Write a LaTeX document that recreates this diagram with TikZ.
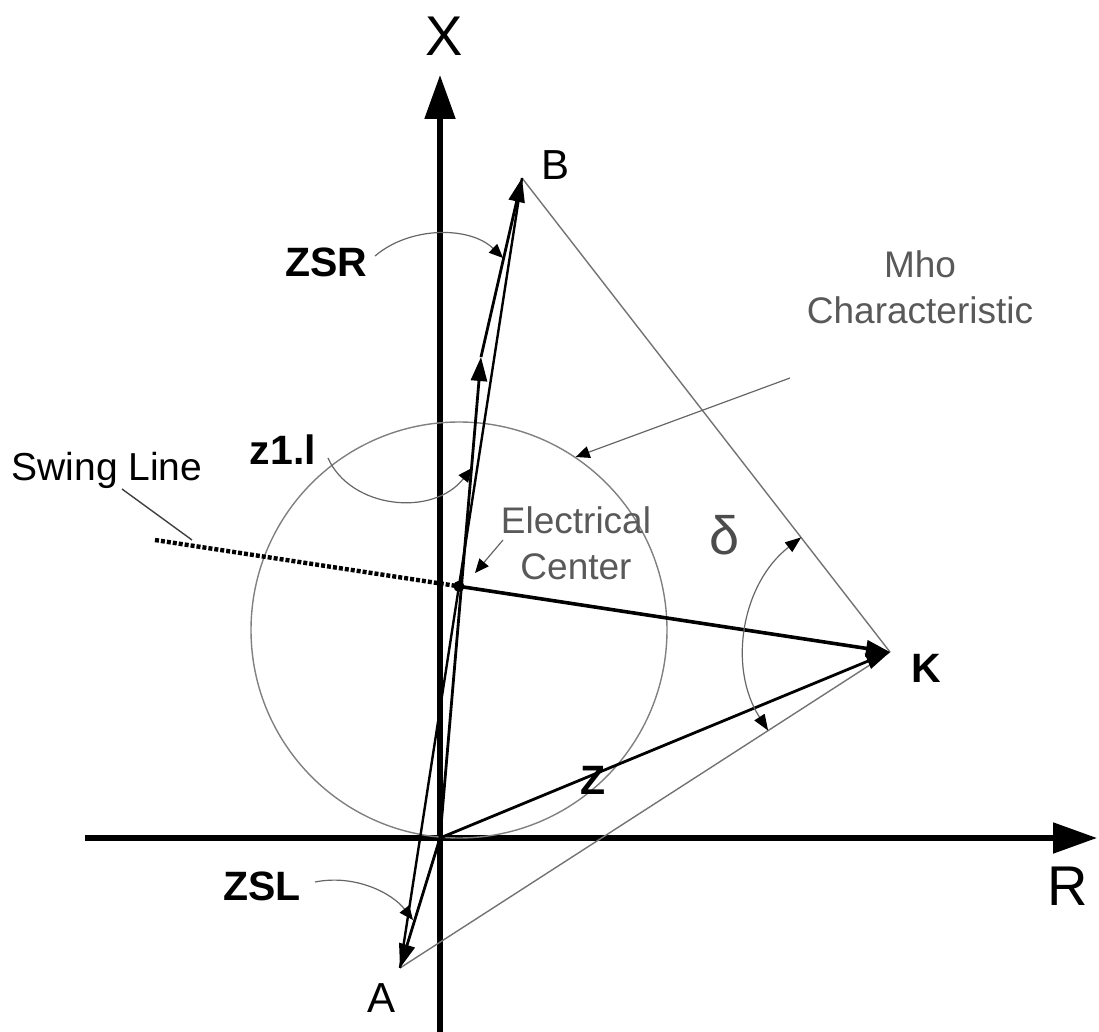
\documentclass[tikz,border=0pt]{standalone}
\usepackage{fontspec}
\setmainfont{Liberation Sans}
\usetikzlibrary{arrows.meta,calc}

\begin{document}
\begin{tikzpicture}[x=0.5pt,y=-0.5pt,
    axis/.style={line width=2.6pt,-{Triangle[width=15pt,length=22pt]}},
    vec/.style={line width=1.4pt,-{Triangle[width=8pt,length=12pt]}},
    guide/.style={line width=0.7pt,draw=black!55},
    pointer/.style={line width=0.6pt,draw=black!60,-{Triangle[width=6pt,length=7pt,color=black]}},
    lbl/.style={font=\fontsize{21}{24}\selectfont},
    blbl/.style={font=\fontsize{20.5}{24}\selectfont\bfseries},
    glbl/.style={font=\fontsize{18.5}{23}\selectfont,text=black!65,align=center}]
    \useasboundingbox (0,0) rectangle (1099,1032);

    % Points
    \coordinate (O) at (440,838);
    \coordinate (A) at (400,968);
    \coordinate (B) at (522,178);
    \coordinate (K) at (890,652);
    \coordinate (P) at (481,357);
    \coordinate (S) at (155,540);
    \coordinate (E) at (intersection of A--B and S--K);

    % Axes
    \coordinate (xbot) at (440,1032);
    \coordinate (xtop) at (440,75);
    \coordinate (rleft) at (85,838);
    \coordinate (rright) at (1097,838);
    \draw[axis] (xbot) -- (xtop);
    \draw[axis] (rleft) -- (rright);
    \node[font=\fontsize{28}{30}\selectfont] (xlbl) at (444,36) {X};
    \node[font=\fontsize{28}{30}\selectfont] (rlbl) at (1068,886) {R};

    % Mho circle
    \node[circle,draw=black!50,line width=0.7pt,minimum size=208pt,inner sep=0pt] (mho) at (459,630) {};

    % Triangle A-B-K
    \draw[guide] (B) -- (K);
    \draw[guide] (A) -- (K);
    \draw[line width=1.2pt] (A) -- (B);

    % Impedance vectors
    \draw[vec] (O) -- (A);
    \draw[vec] (O) -- (P);
    \draw[vec] (P) -- (B);
    \draw[vec] (O) -- (K);

    % Swing line
    \draw[line width=2.2pt,dash pattern=on 2pt off 1pt] (S) -- (E);
    \draw[vec,line width=1.8pt] (E) -- (K);
    \fill (E) circle[radius=2.8pt];

    % Angle delta
    \draw[line width=0.6pt,draw=black!60,{Triangle[width=6pt,length=8pt,color=black]}-{Triangle[width=6pt,length=8pt,color=black]}]
        ($(K)+(127.8:72.5pt)$) arc[start angle=127.8,end angle=212.8,radius=72.5pt];
    \node[font=\fontsize{27}{30}\selectfont,text=black!70] (delta) at (725,535) {δ};

    % Point labels
    \node[lbl] (albl) at (382,998) {A};
    \node[lbl] (blbl) at (556,165) {B};
    \node[blbl] (klbl) at (926,668) {K};
    \node[blbl] (zlbl) at (593,780) {Z};

    % Impedance labels
    \node[blbl] (zsr) at (326,262) {ZSR};
    \node[blbl] (zone) at (283,450) {z1.l};
    \node[blbl] (zsl) at (262,886) {ZSL};
    \draw[pointer] (375,256) .. controls (410,226) and (470,226) .. (503,258);
    \draw[pointer] (328,458) .. controls (350,508) and (432,518) .. (472,468);
    \draw[pointer] (315,882) .. controls (355,874) and (392,893) .. (413,920);

    % Swing line label
    \node[font=\fontsize{19.5}{23}\selectfont] (swing) at (107,470) {Swing Line};
    \coordinate (swA) at (122,489);
    \coordinate (swB) at (192,540);
    \draw[line width=0.7pt,draw=black!75] (swA) -- (swB);

    % Electrical center
    \node[glbl] (ecenter) at (576,543) {Electrical\\Center};
    \coordinate (ecTail) at (503,540);
    \coordinate (ecTip) at (475,573);
    \draw[pointer] (ecTail) -- (ecTip);

    % Mho characteristic
    \node[glbl] (mhotxt) at (920,287) {Mho\\Characteristic};
    \coordinate (mhoTail) at (790,378);
    \draw[pointer] (mhoTail) -- (mho.56);
\end{tikzpicture}
\end{document}
